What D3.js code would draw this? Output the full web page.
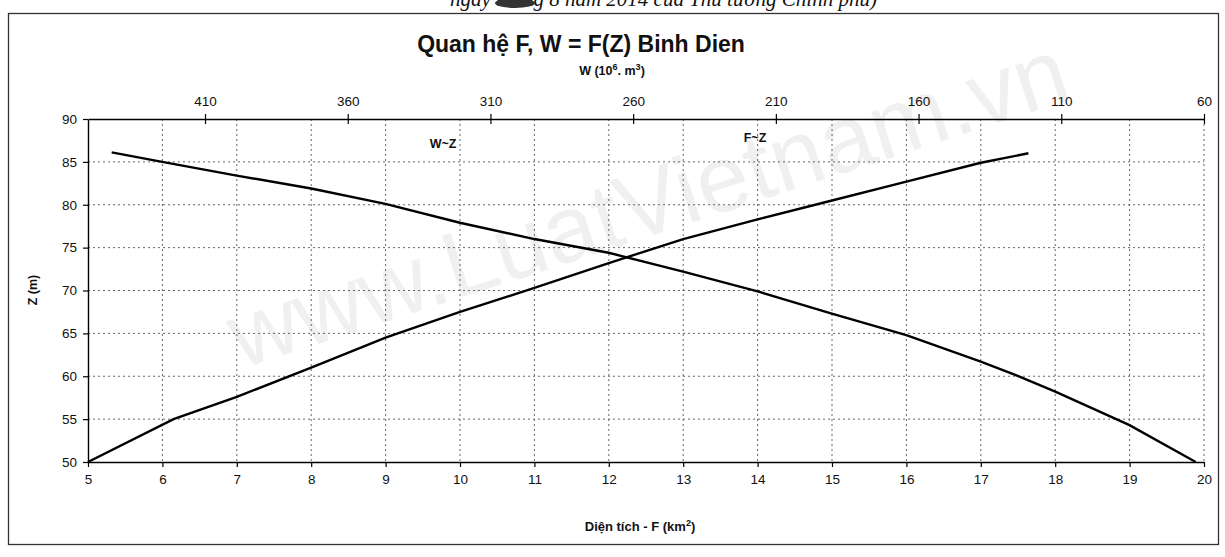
<!DOCTYPE html>
<html>
<head>
<meta charset="utf-8">
<script src="https://cdn.jsdelivr.net/npm/d3@7"></script>
<style>
  body { margin: 0; background: #fff; }
  svg text { font-family: "Liberation Sans", Arial, sans-serif; fill: #111; }
</style>
</head>
<body>
<svg id="chart" width="1225" height="557"></svg>
<script>
// F~Z curve: area F (km2) against level Z (m)
var fzF = [5.0, 6.15, 7.0, 8.0, 9.0, 10.0, 11.0, 12.0, 13.0, 14.0, 15.0, 16.0, 17.0, 17.64];
var fzZ = [50.0, 55.0, 57.6, 61.0, 64.5, 67.5, 70.3, 73.2, 76.0, 78.3, 80.5, 82.7, 84.9, 86.0];

// W~Z curve: volume W (10^6 m3) against level Z (m)
var wzW = [442.7, 425.0, 398.9, 372.8, 346.8, 320.7, 294.6, 268.6, 242.5, 216.4, 190.4, 164.3, 138.2, 125.7, 112.1, 86.1, 62.9];
var wzZ = [86.1, 85.0, 83.4, 81.9, 80.1, 77.9, 76.0, 74.4, 72.2, 69.9, 67.3, 64.8, 61.7, 60.1, 58.2, 54.3, 50.0];

// tick labels
var fTicks = [5, 6, 7, 8, 9, 10, 11, 12, 13, 14, 15, 16, 17, 18, 19, 20];
var zTicks = [50, 55, 60, 65, 70, 75, 80, 85, 90];
var wTicks = [410, 360, 310, 260, 210, 160, 110, 60];

var svg = d3.select('#chart');

// plot box (note: "top" is taken by window.top)
var plotL = 88, plotR = 1204, plotT = 119, plotB = 462;

var x = d3.scaleLinear().domain([5, 20]).range([plotL, plotR]);
var y = d3.scaleLinear().domain([50, 90]).range([plotB, plotT]);
var w = d3.scaleLinear().domain([451, 60]).range([plotL, plotR]);

// scanned page header, cut off at the top
svg.append('text')
    .attr('x', 450).attr('y', 6)
    .style('font-family', '"Liberation Serif", serif')
    .style('font-style', 'italic')
    .style('font-size', '21px')
    .text('ngày          tháng 8  năm 2014 của Thủ tướng Chính phủ)');
svg.append('ellipse')
    .attr('cx', 515).attr('cy', 3)
    .attr('rx', 20).attr('ry', 5)
    .attr('fill', '#333');

// outer frame
svg.append('rect')
    .attr('x', 8.5).attr('y', 13.5)
    .attr('width', 1210).attr('height', 531)
    .attr('fill', 'none')
    .attr('stroke', '#333')
    .attr('stroke-width', 1.3);

// watermark
svg.append('text')
    .attr('transform', 'translate(650,210) rotate(-18)')
    .attr('text-anchor', 'middle')
    .attr('dominant-baseline', 'middle')
    .style('font-size', '94px')
    .style('fill', '#f0f0f0')
    .text('www.LuatVietnam.vn');

// grid
var grid = svg.append('g').attr('class', 'grid')
    .attr('stroke', '#555')
    .attr('stroke-width', 0.9)
    .attr('stroke-dasharray', '2,3');

grid.selectAll('.vgrid')
    .data(fTicks.slice(1))
    .enter().append('line')
    .attr('x1', d => x(d)).attr('x2', d => x(d))
    .attr('y1', plotT).attr('y2', plotB);

grid.selectAll('.hgrid')
    .data(zTicks.slice(1, -1))
    .enter().append('line')
    .attr('x1', plotL).attr('x2', plotR)
    .attr('y1', d => y(d)).attr('y2', d => y(d));

// axes
var xAxis = svg.append('g')
    .attr('transform', 'translate(0,' + plotB + ')')
    .call(d3.axisBottom(x).tickValues(fTicks).tickSize(5).tickPadding(7).tickSizeOuter(0));

var yAxis = svg.append('g')
    .attr('transform', 'translate(' + plotL + ',0)')
    .call(d3.axisLeft(y).tickValues(zTicks).tickSize(5).tickPadding(6).tickSizeOuter(0));

var wAxis = svg.append('g')
    .attr('transform', 'translate(0,' + plotT + ')')
    .call(d3.axisTop(w).tickValues(wTicks).tickSize(5).tickPadding(8).tickSizeOuter(0));

// top ticks cross the axis line
wAxis.selectAll('.tick').append('line')
    .attr('y1', 0).attr('y2', 5)
    .attr('stroke', '#000');

[xAxis, yAxis, wAxis].forEach(a => {
    a.select('.domain').attr('stroke', '#000').attr('stroke-width', 1.4);
    a.selectAll('.tick line').attr('stroke', '#000').attr('stroke-width', 1.2);
    a.selectAll('.tick text')
        .style('font-size', '13.5px')
        .style('font-family', '"Liberation Sans", Arial, sans-serif')
        .attr('fill', '#111');
});

// curves
var fzLine = d3.line()
    .x(d => x(d[0]))
    .y(d => y(d[1]));
var wzLine = d3.line()
    .x(d => w(d[0]))
    .y(d => y(d[1]));

svg.append('path')
    .datum(d3.zip(fzF, fzZ))
    .attr('d', fzLine)
    .attr('fill', 'none')
    .attr('stroke', '#000')
    .attr('stroke-width', 2.4);

svg.append('path')
    .datum(d3.zip(wzW, wzZ))
    .attr('d', wzLine)
    .attr('fill', 'none')
    .attr('stroke', '#000')
    .attr('stroke-width', 2.4);

// titles and labels
svg.append('text')
    .attr('x', 581).attr('y', 52)
    .attr('text-anchor', 'middle')
    .style('font-size', '23px')
    .style('font-weight', 'bold')
    .text('Quan hệ F, W = F(Z) Binh Dien');

var wLab = svg.append('text')
    .attr('x', 612).attr('y', 75)
    .attr('text-anchor', 'middle')
    .style('font-size', '12.5px')
    .style('font-weight', 'bold');
wLab.append('tspan').text('W (10');
wLab.append('tspan').attr('dy', -5).style('font-size', '9px').text('6');
wLab.append('tspan').attr('dy', 5).text('.  m');
wLab.append('tspan').attr('dy', -5).style('font-size', '9px').text('3');
wLab.append('tspan').attr('dy', 5).text(')');

var fLab = svg.append('text')
    .attr('x', 640).attr('y', 531)
    .attr('text-anchor', 'middle')
    .style('font-size', '13px')
    .style('font-weight', 'bold');
fLab.append('tspan').text('Diện tích - F (km');
fLab.append('tspan').attr('dy', -5).style('font-size', '9px').text('2');
fLab.append('tspan').attr('dy', 5).text(')');

svg.append('text')
    .attr('transform', 'translate(37,290) rotate(-90)')
    .attr('text-anchor', 'middle')
    .style('font-size', '12.5px')
    .style('font-weight', 'bold')
    .text('Z (m)');

svg.append('text')
    .attr('x', 443).attr('y', 148)
    .attr('text-anchor', 'middle')
    .style('font-size', '12.5px')
    .style('font-weight', 'bold')
    .text('W~Z');

svg.append('text')
    .attr('x', 755).attr('y', 142)
    .attr('text-anchor', 'middle')
    .style('font-size', '12.5px')
    .style('font-weight', 'bold')
    .text('F~Z');
</script>
</body>
</html>
